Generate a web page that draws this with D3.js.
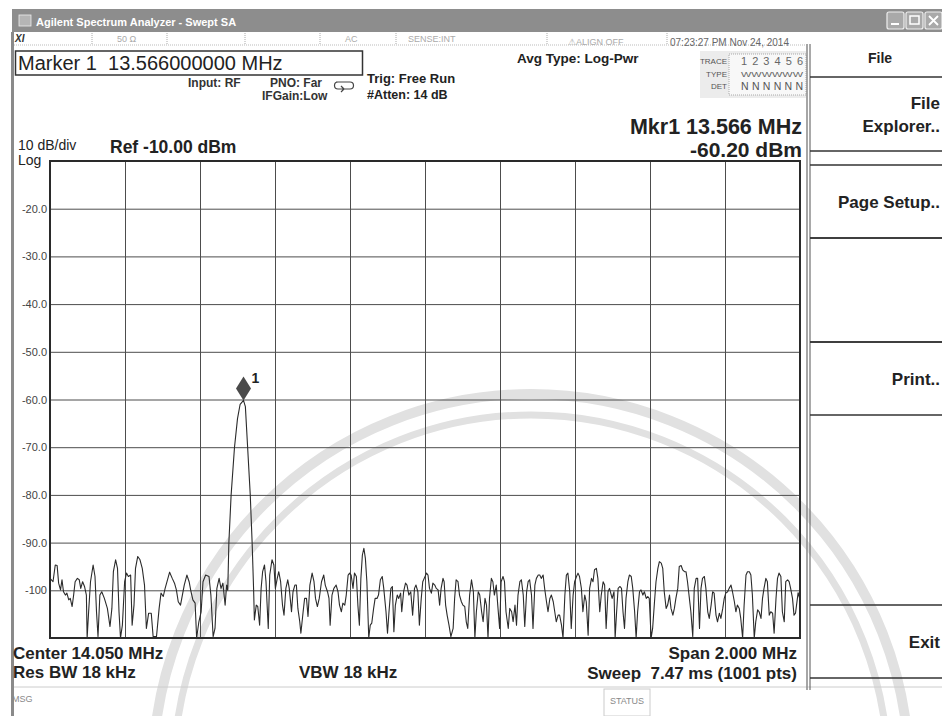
<!DOCTYPE html>
<html><head><meta charset="utf-8">
<script src="https://cdn.jsdelivr.net/npm/d3@7"></script>
<style>
body{margin:0;background:#fff;}
svg{display:block;font-family:"Liberation Sans",Arial,sans-serif;}
</style></head><body>
<svg id="c" width="942" height="716"></svg>
<script>
// ---------------- data ----------------
const startMHz = 13.05, stopMHz = 15.05;
const refLevelDbm = -10, bottomLevelDbm = -110;
const xDivisions = [13.05,13.25,13.45,13.65,13.85,14.05,14.25,14.45,14.65,14.85,15.05];
const yTickValues = [-20,-30,-40,-50,-60,-70,-80,-90,-100];
const yTickLabels = ["-20.0","-30.0","-40.0","-50.0","-60.0","-70.0","-80.0","-90.0","-100"];
const markerFreqMHz = 13.566, markerLevelDbm = -60.2;
const softkeyLabels = [["File","Explorer.."],["Page Setup.."],[],["Print.."],["Exit"]];
const traceRows = ["1 2 3 4 5 6","WWWWWW","N N N N N N"];
const traceRowNames = ["TRACE","TYPE","DET"];
// trace: [frequency MHz, level dBm]
const trace = [
[13.050,-97.5],[13.058,-98.2],[13.064,-94.7],[13.069,-94.8],[13.073,-98.5],[13.078,-99.9],[13.082,-97.8],[13.086,-100.3],[13.091,-101.0],[13.095,-100.6],
[13.100,-102.0],[13.104,-101.7],[13.109,-103.4],[13.113,-101.0],[13.117,-98.2],[13.123,-97.5],[13.128,-97.8],[13.132,-99.6],[13.137,-98.2],[13.142,-99.2],
[13.147,-101.0],[13.149,-110.0],[13.153,-104.5],[13.158,-98.2],[13.165,-94.7],[13.170,-97.1],[13.174,-104.5],[13.178,-109.7],[13.183,-101.0],[13.188,-100.3],
[13.195,-101.7],[13.203,-103.8],[13.210,-107.6],[13.215,-103.8],[13.219,-96.1],[13.225,-93.6],[13.230,-95.4],[13.234,-104.5],[13.238,-110.0],[13.243,-107.3],
[13.249,-98.2],[13.254,-96.4],[13.259,-97.1],[13.265,-96.8],[13.269,-107.3],[13.274,-103.1],[13.278,-95.4],[13.284,-92.9],[13.290,-93.6],[13.296,-95.4],
[13.302,-98.9],[13.307,-108.0],[13.313,-104.8],[13.320,-104.8],[13.325,-109.7],[13.334,-109.7],[13.341,-103.8],[13.346,-100.6],[13.352,-101.3],[13.357,-99.6],
[13.362,-98.2],[13.369,-96.2],[13.376,-97.5],[13.382,-98.5],[13.387,-99.9],[13.392,-102.4],[13.398,-103.1],[13.403,-101.0],[13.408,-98.9],[13.415,-96.8],
[13.421,-98.2],[13.426,-100.3],[13.431,-102.0],[13.437,-102.7],[13.441,-110.0],[13.447,-106.6],[13.453,-104.5],[13.458,-98.2],[13.465,-96.8],[13.474,-97.1],
[13.479,-101.0],[13.485,-109.7],[13.490,-108.0],[13.495,-99.6],[13.501,-97.5],[13.506,-99.6],[13.511,-98.5],[13.517,-103.1],[13.521,-98.9],
[13.524,-100.0],[13.527,-90.0],[13.533,-80.0],[13.542,-70.0],[13.550,-64.0],[13.557,-61.0],[13.566,-60.2],[13.571,-61.5],[13.577,-70.0],[13.584,-80.0],
[13.589,-90.0],[13.593,-100.0],[13.595,-106.2],
[13.600,-103.1],[13.604,-103.4],[13.609,-107.3],[13.613,-99.6],[13.617,-96.1],[13.622,-94.7],[13.626,-98.2],[13.632,-108.0],[13.636,-96.8],[13.642,-93.6],
[13.647,-94.7],[13.651,-99.6],[13.656,-97.5],[13.660,-96.1],[13.665,-98.2],[13.670,-103.1],[13.674,-105.2],[13.679,-99.6],[13.684,-97.8],[13.688,-99.6],
[13.694,-104.5],[13.698,-100.3],[13.703,-98.9],[13.707,-98.9],[13.711,-103.8],[13.716,-106.6],[13.719,-109.0],[13.725,-104.5],[13.729,-101.7],[13.734,-101.7],
[13.738,-105.5],[13.743,-98.9],[13.749,-96.4],[13.754,-98.2],[13.758,-101.7],[13.763,-103.4],[13.768,-101.7],[13.774,-98.2],[13.780,-96.8],[13.784,-98.9],
[13.790,-100.3],[13.794,-101.7],[13.797,-107.3],[13.802,-101.0],[13.807,-99.6],[13.813,-98.9],[13.818,-100.3],[13.822,-103.1],[13.827,-104.5],[13.831,-102.7],
[13.836,-103.1],[13.840,-101.0],[13.845,-96.8],[13.849,-96.4],[13.853,-96.8],[13.858,-99.6],[13.862,-96.4],[13.867,-97.1],[13.871,-103.1],[13.875,-107.3],
[13.879,-97.5],[13.883,-92.6],[13.887,-91.2],[13.891,-93.3],[13.895,-98.2],[13.900,-110.0],[13.904,-107.3],[13.908,-106.9],[13.913,-103.8],[13.917,-101.7],
[13.922,-101.7],[13.926,-101.0],[13.931,-97.8],[13.936,-97.1],[13.940,-99.6],[13.946,-104.5],[13.950,-109.0],[13.954,-104.5],[13.959,-99.6],[13.963,-99.2],
[13.967,-108.7],[13.971,-103.1],[13.976,-101.0],[13.980,-101.7],[13.985,-100.6],[13.988,-104.5],[13.993,-100.3],[13.998,-98.5],[14.002,-98.9],[14.007,-101.0],
[14.012,-100.3],[14.017,-105.2],[14.022,-99.6],[14.026,-98.9],[14.031,-100.3],[14.035,-107.3],[14.040,-101.7],[14.044,-98.2],
[14.054,-96.4],[14.058,-96.8],[14.062,-99.6],[14.067,-100.6],[14.071,-98.5],[14.076,-98.9],[14.080,-99.6],[14.085,-99.9],[14.089,-103.1],[14.093,-99.6],
[14.098,-97.5],[14.101,-98.2],[14.105,-103.1],[14.109,-105.2],[14.114,-107.3],[14.119,-109.7],[14.125,-108.0],[14.129,-101.7],[14.133,-97.8],[14.138,-98.2],
[14.142,-101.0],[14.147,-102.4],[14.151,-103.1],[14.156,-103.4],[14.160,-106.6],[14.164,-108.0],[14.169,-101.0],[14.174,-97.8],[14.179,-100.3],[14.183,-110.0],
[14.187,-104.5],[14.192,-100.3],[14.196,-101.0],[14.201,-104.5],[14.205,-106.6],[14.210,-101.7],[14.214,-103.1],[14.218,-110.0],[14.222,-101.7],[14.227,-97.5],
[14.231,-98.2],[14.235,-101.0],[14.240,-98.9],[14.244,-103.1],[14.249,-108.0],[14.253,-98.2],[14.258,-97.1],[14.262,-98.2],[14.266,-104.5],[14.272,-108.0],
[14.276,-103.8],[14.281,-104.5],[14.285,-106.6],[14.290,-103.1],[14.294,-107.3],[14.298,-101.0],[14.303,-98.2],[14.307,-97.8],[14.312,-101.0],[14.316,-107.6],
[14.321,-100.3],[14.325,-98.2],[14.329,-97.8],[14.334,-101.0],[14.338,-108.0],[14.343,-98.9],[14.347,-97.5],[14.352,-96.8],[14.356,-96.8],[14.360,-97.5],
[14.365,-96.8],[14.369,-99.6],[14.374,-102.4],[14.378,-104.5],[14.383,-101.7],[14.387,-101.0],[14.392,-102.4],[14.396,-104.5],[14.400,-106.6],[14.405,-105.2],
[14.409,-105.2],[14.414,-107.3],[14.418,-110.0],[14.423,-101.0],[14.427,-96.8],[14.431,-96.4],[14.436,-100.3],[14.440,-108.0],[14.445,-101.0],[14.449,-98.2],
[14.454,-97.1],[14.458,-96.4],[14.462,-97.1],[14.467,-99.6],[14.471,-104.5],[14.476,-101.0],[14.480,-102.4],[14.485,-109.4],[14.489,-99.6],[14.494,-97.5],
[14.498,-98.2],[14.502,-95.7],[14.507,-95.4],[14.511,-97.5],[14.516,-104.5],[14.520,-101.0],[14.525,-98.2],[14.529,-98.9],[14.533,-108.0],[14.538,-100.3],
[14.542,-99.6],
[14.549,-101.7],[14.554,-100.3],[14.557,-110.0],[14.561,-104.5],[14.565,-99.6],[14.570,-99.2],[14.574,-99.6],[14.578,-104.5],[14.582,-108.0],[14.586,-101.7],
[14.591,-98.2],[14.595,-96.8],[14.600,-97.1],[14.604,-99.6],[14.609,-104.5],[14.613,-110.0],[14.617,-104.5],[14.622,-100.3],[14.626,-99.9],[14.631,-101.0],
[14.635,-100.3],[14.640,-101.7],[14.644,-101.3],[14.648,-101.7],[14.653,-110.0],[14.657,-108.0],[14.662,-102.4],[14.666,-98.2],[14.671,-95.4],[14.675,-94.0],
[14.680,-94.3],[14.684,-95.4],[14.688,-100.3],[14.693,-103.8],[14.697,-103.1],[14.702,-101.0],[14.706,-103.8],[14.711,-105.2],[14.715,-103.8],[14.719,-101.7],
[14.724,-99.6],[14.728,-95.0],[14.733,-94.8],[14.737,-95.7],[14.742,-96.1],[14.746,-96.1],[14.750,-98.2],[14.755,-101.7],[14.759,-104.5],[14.764,-109.7],
[14.768,-99.6],[14.773,-97.5],[14.777,-97.5],[14.782,-108.0],[14.786,-99.6],[14.790,-97.5],[14.795,-97.1],[14.799,-99.6],[14.804,-104.5],[14.808,-105.9],
[14.813,-103.1],[14.817,-100.3],[14.821,-100.6],[14.826,-105.2],[14.830,-106.6],[14.835,-104.8],[14.839,-105.9],[14.844,-103.8],[14.848,-101.7],[14.852,-100.6],
[14.857,-100.3],[14.861,-99.6],[14.866,-98.9],[14.870,-100.3],[14.875,-102.4],[14.879,-104.5],[14.883,-103.1],[14.888,-103.8],[14.892,-105.9],[14.897,-110.0],
[14.901,-103.1],[14.906,-96.8],[14.910,-96.1],[14.915,-96.1],[14.919,-96.8],[14.923,-101.0],[14.928,-110.0],[14.932,-106.6],[14.937,-104.1],[14.941,-104.5],
[14.946,-105.9],[14.950,-101.7],[14.954,-99.6],[14.959,-97.5],[14.963,-98.2],[14.968,-105.2],[14.972,-104.5],[14.977,-104.8],[14.981,-109.0],[14.986,-101.7],
[14.990,-97.5],[14.994,-96.4],[14.999,-97.1],[15.003,-104.5],[15.008,-106.6],[15.012,-98.2],[15.017,-97.8],[15.021,-98.2],[15.025,-99.6],[15.030,-101.7],
[15.034,-105.2],[15.038,-104.8],[15.045,-100.5],[15.050,-102.0]
];

// ---------------- drawing ----------------
const svg = d3.select("#c");
const FONT = '"Liberation Sans", Arial, sans-serif';
svg.append("rect").attr("width",942).attr("height",716).attr("fill","#fff");

function txt(g, x, y, s, o = {}) {
  return g.append("text").attr("x",x).attr("y",y).text(s)
    .attr("font-size", o.size || 12)
    .attr("font-weight", o.bold ? "bold" : "normal")
    .attr("font-style", o.italic ? "italic" : "normal")
    .attr("text-anchor", o.anchor || "start")
    .attr("fill", o.fill || "#222");
}

// faint watermark arcs
const wm = svg.append("g").attr("fill","none").attr("stroke","#e1e1e1");
wm.append("circle").attr("cx",531).attr("cy",772).attr("r",378).attr("stroke-width",10);
wm.append("circle").attr("cx",531).attr("cy",772).attr("r",357).attr("stroke-width",7);

// window chrome
svg.append("rect").attr("x",12).attr("y",9).attr("width",930).attr("height",23).attr("fill","#8d8d8d");
svg.append("rect").attr("x",19).attr("y",15).attr("width",12).attr("height",11).attr("fill","#b5b5b5").attr("stroke","#eee").attr("stroke-width",0.8);
txt(svg, 36, 26, "Agilent Spectrum Analyzer - Swept SA", {size:11, bold:true, fill:"#fff"});
[887, 906, 925].forEach(bx => {
  svg.append("rect").attr("x",bx).attr("y",12).attr("width",17).attr("height",17).attr("rx",2)
    .attr("fill","#a9a9a9").attr("stroke","#eee").attr("stroke-width",1.2);
});
svg.append("line").attr("x1",891).attr("x2",899).attr("y1",24).attr("y2",24).attr("stroke","#fff").attr("stroke-width",2);
svg.append("rect").attr("x",910).attr("y",16).attr("width",9).attr("height",8).attr("fill","none").attr("stroke","#fff").attr("stroke-width",1.5);
svg.append("path").attr("d","M929,16L938,25M938,16L929,25").attr("stroke","#fff").attr("stroke-width",1.8);
svg.append("rect").attr("x",11).attr("y",32).attr("width",3).attr("height",684).attr("fill","#8a8a8a");

// status row
const st = svg.append("g");
st.append("line").attr("x1",14).attr("x2",806).attr("y1",45).attr("y2",45).attr("stroke","#bbb").attr("stroke-dasharray","1,1");
[92,167,245,320,396,547,667].forEach(dx => st.append("line").attr("x1",dx).attr("x2",dx).attr("y1",33).attr("y2",45).attr("stroke","#aaa").attr("stroke-dasharray","1,1"));
txt(st, 15, 42, "XI", {size:10, bold:true, italic:true, fill:"#333"});
txt(st, 117, 42, "50 Ω", {size:9, fill:"#aaa"});
txt(st, 345, 42, "AC", {size:9, fill:"#aaa"});
txt(st, 408, 42, "SENSE:INT", {size:9, fill:"#aaa"});
txt(st, 568, 45, "⚠ALIGN OFF", {size:9, fill:"#aaa"});
txt(st, 670, 46, "07:23:27 PM Nov 24, 2014", {size:10, fill:"#666"});

// marker readout box
svg.append("rect").attr("x",15.5).attr("y",51).attr("width",347).attr("height",24).attr("fill","#fff").attr("stroke","#333").attr("stroke-width",1.5);
txt(svg, 18, 70, "Marker 1  13.566000000 MHz", {size:20, fill:"#222"}).style("white-space","pre");
txt(svg, 188, 87, "Input: RF", {size:12, bold:true, fill:"#333"});
txt(svg, 270, 87, "PNO: Far", {size:12, bold:true, fill:"#333"});
txt(svg, 262, 100, "IFGain:Low", {size:12, bold:true, fill:"#333"});
svg.append("path").attr("d","M336,82 h14 a3,3 0 0 1 0,7 h-12 a3,3 0 0 1 0,-7 M344,89 l-3,-3 M344,89 l-3,3")
  .attr("fill","none").attr("stroke","#444").attr("stroke-width",1.2);
txt(svg, 367, 83, "Trig: Free Run", {size:13, bold:true, fill:"#222"});
txt(svg, 367, 99, "#Atten: 14 dB", {size:12.5, bold:true, fill:"#222"});
txt(svg, 517, 63, "Avg Type: Log-Pwr", {size:13.5, bold:true, fill:"#222"});

// trace info table
const tb = svg.append("g");
tb.append("rect").attr("x",700).attr("y",51).attr("width",106).attr("height",47).attr("fill","#ececec");
tb.append("rect").attr("x",729).attr("y",54).attr("width",77).attr("height",41).attr("fill","#f8f8f8").attr("stroke","#aaa").attr("stroke-dasharray","1,1");
traceRowNames.forEach((n,i) => txt(tb, 727, 64 + i*12.5, n, {size:8, anchor:"end", fill:"#555"}));
txt(tb, 741, 65, traceRows[0], {size:11, fill:"#666"}).attr("textLength",62);
txt(tb, 741, 77, traceRows[1], {size:8, fill:"#666"}).attr("textLength",62).attr("lengthAdjust","spacingAndGlyphs");
txt(tb, 741, 90, traceRows[2], {size:10.5, fill:"#555"}).attr("textLength",62);

// marker readout right
txt(svg, 802, 134, "Mkr1 13.566 MHz", {size:21.5, bold:true, anchor:"end", fill:"#222"});
txt(svg, 802, 157, "-60.20 dBm", {size:21, bold:true, anchor:"end", fill:"#222"});
txt(svg, 18, 149.5, "10 dB/div", {size:14, fill:"#222"});
txt(svg, 18, 165, "Log", {size:14, fill:"#222"});
txt(svg, 110, 153, "Ref -10.00 dBm", {size:17.5, bold:true, fill:"#222"});

// plot
const x = d3.scaleLinear().domain([startMHz, stopMHz]).range([50, 800]);
const y = d3.scaleLinear().domain([bottomLevelDbm, refLevelDbm]).range([638, 161]);
const plot = svg.append("g");
const yAxis = d3.axisLeft(y).tickValues(yTickValues).tickSize(-750).tickPadding(4)
  .tickFormat((d,i) => yTickLabels[i]);
const ga = plot.append("g").attr("transform","translate(50,0)").call(yAxis);
ga.select(".domain").remove();
ga.selectAll(".tick line").attr("stroke","#4d4d4d").attr("stroke-width",1);
ga.selectAll(".tick text").attr("font-family",FONT).attr("font-size",11).attr("fill","#444").attr("x",-3);
const xAxis = d3.axisBottom(x).tickValues(xDivisions).tickSize(-477).tickFormat("");
const gx = plot.append("g").attr("transform","translate(0,638)").call(xAxis);
gx.select(".domain").remove();
gx.selectAll(".tick line").attr("stroke","#4d4d4d").attr("stroke-width",1);

const line = d3.line().x(d => x(d[0])).y(d => y(Math.max(d[1], bottomLevelDbm)));
plot.append("path").datum(trace).attr("d", line).attr("fill","none").attr("stroke","#2b2b2b").attr("stroke-width",1.1).attr("stroke-linejoin","round");

plot.append("rect").attr("x",50).attr("y",161).attr("width",750).attr("height",477)
  .attr("fill","none").attr("stroke","#2a2a2a").attr("stroke-width",2);

// marker diamond
const mx = x(markerFreqMHz), my = y(markerLevelDbm) - 12;
plot.append("path").attr("d", `M${mx},${my-12}L${mx+7.5},${my}L${mx},${my+12}L${mx-7.5},${my}Z`).attr("fill","#4a4a4a");
txt(plot, mx + 8, my - 5, "1", {size:14, bold:true, fill:"#222"});

// bottom annotations
txt(svg, 13, 659, "Center 14.050 MHz", {size:17, bold:true, fill:"#222"});
txt(svg, 13, 678, "Res BW 18 kHz", {size:17, bold:true, fill:"#222"});
txt(svg, 299, 678, "VBW 18 kHz", {size:17, bold:true, fill:"#222"});
txt(svg, 797, 659, "Span 2.000 MHz", {size:17, bold:true, anchor:"end", fill:"#222"});
txt(svg, 797, 679, "Sweep  7.47 ms (1001 pts)", {size:17, bold:true, anchor:"end", fill:"#222"}).style("white-space","pre");

// bottom status bar
svg.append("line").attr("x1",14).attr("x2",942).attr("y1",687).attr("y2",687).attr("stroke","#ccc");
txt(svg, 12, 702, "MSG", {size:9, fill:"#888"});
svg.append("rect").attr("x",604).attr("y",689).attr("width",46).attr("height",27).attr("fill","none").attr("stroke","#ccc");
txt(svg, 627, 704, "STATUS", {size:9, anchor:"middle", fill:"#888"});

// right soft-key panel
const sk = svg.append("g");
sk.append("line").attr("x1",807).attr("x2",807).attr("y1",44).attr("y2",690).attr("stroke","#888").attr("stroke-width",1.5);
sk.append("line").attr("x1",810).attr("x2",810).attr("y1",44).attr("y2",690).attr("stroke","#555").attr("stroke-width",1);
txt(sk, 880, 63, "File", {size:14, bold:true, anchor:"middle", fill:"#222"});
const keyBoxes = [[77,151],[165,238],[238,342],[342,415],[605,678]];
keyBoxes.forEach((b,i) => {
  sk.append("line").attr("x1",810).attr("x2",942).attr("y1",b[0]).attr("y2",b[0]).attr("stroke","#333").attr("stroke-width",1.5);
  sk.append("line").attr("x1",810).attr("x2",942).attr("y1",b[1]).attr("y2",b[1]).attr("stroke","#333").attr("stroke-width",1.5);
  const lbl = softkeyLabels[i];
  const mid = (b[0]+b[1])/2;
  if (lbl.length === 2) {
    txt(sk, 940, mid - 5, lbl[0], {size:17, bold:true, anchor:"end", fill:"#222"});
    txt(sk, 940, mid + 18, lbl[1], {size:17, bold:true, anchor:"end", fill:"#222"});
  } else if (lbl.length === 1) {
    txt(sk, 940, mid + 6, lbl[0], {size:17, bold:true, anchor:"end", fill:"#222"});
  }
});
</script>
</body></html>
